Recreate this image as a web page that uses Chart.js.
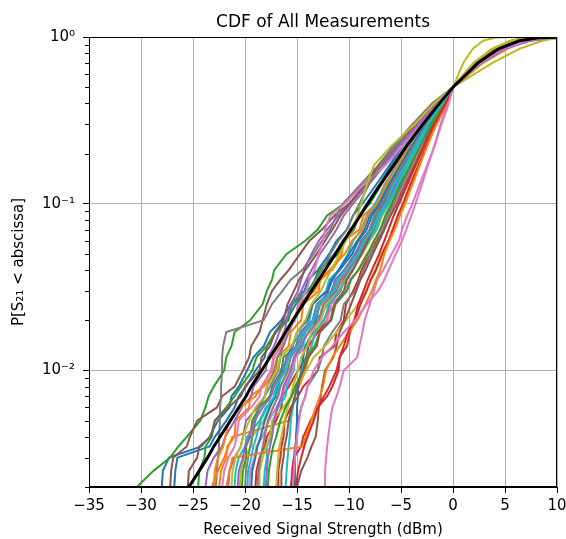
<!DOCTYPE html>
<html>
<head>
<meta charset="utf-8">
<script src="https://cdn.jsdelivr.net/npm/chart.js@4.4.0/dist/chart.umd.min.js"></script>
<style>
  html, body { margin: 0; padding: 0; background: #fff; }
  #wrap { width: 566px; height: 539px; }
</style>
</head>
<body>
<div id="wrap"><canvas id="c" width="566" height="539"></canvas></div>
<script>
// Cumulative probability levels shared by every curve (y values)
const levels = [0.002, 0.0025, 0.003, 0.0035, 0.004, 0.005, 0.006, 0.007, 0.008, 0.01,
                0.012, 0.014, 0.017, 0.02, 0.025, 0.03, 0.035, 0.04, 0.05, 0.06,
                0.07, 0.085, 0.1, 0.13, 0.17, 0.22, 0.3, 0.4, 0.5, 0.7,
                0.85, 0.95, 0.99, 1];

// Tick values
const xTickValues = [-35, -30, -25, -20, -15, -10, -5, 0, 5, 10];
const yDecades = [0.01, 0.1, 1];
const yDecadeLabels = ['10\u207B\u00B2', '10\u207B\u00B9', '10\u2070'];

// Colour cycle
const cycleColors = ['#1f77b4', '#ff7f0e', '#2ca02c', '#d62728', '#9467bd',
                     '#8c564b', '#e377c2', '#7f7f7f', '#bcbd22', '#17becf'];

// Received signal strength (dBm) of each measurement at the probability levels above
const m01 = [-28.0, -27.9, -27.3, -24.2, -23.4, -22.6, -21.5, -21.3, -20.6, -19.8, -19.2, -18.2, -17.6, -16.5, -15.6, -14.3, -13.9, -13.0, -11.9, -11.2, -10.2, -9.6, -8.7, -7.4, -6.1, -4.9, -3.2, -1.5, 0, 2.3, 4.2, 6.0, 7.8, 9.0];
const m02 = [-22.5, -22.3, -21.8, -21.7, -21.0, -20.9, -19.6, -19.5, -18.2, -17.0, -16.9, -15.8, -15.6, -14.6, -14.4, -12.9, -12.8, -11.6, -10.7, -10.5, -9.0, -8.6, -7.4, -6.6, -5.4, -4.2, -2.7, -1.2, 0, 2.5, 4.5, 6.3, 7.9, 9.2];
const m03 = [-30.4, -28.8, -27.2, -26.4, -25.6, -24.3, -23.8, -23.5, -23.0, -22.0, -21.8, -21.3, -21.0, -19.5, -18.3, -17.9, -17.4, -17.2, -16.0, -14.2, -13.0, -12.1, -10.5, -8.6, -7.0, -5.4, -3.4, -1.6, 0, 2.2, 4.0, 5.8, 7.4, 8.6];
const m04 = [-19.0, -18.9, -18.6, -18.1, -17.9, -17.0, -16.5, -16.4, -15.8, -14.9, -14.1, -13.9, -13.0, -12.1, -11.9, -10.8, -10.6, -9.8, -8.9, -8.5, -7.6, -7.2, -6.3, -5.5, -4.6, -3.6, -2.4, -1.0, 0, 2.1, 3.9, 5.6, 7.0, 8.0];
const m05 = [-23.8, -23.6, -23.0, -22.2, -21.9, -21.0, -20.3, -19.4, -19.2, -18.0, -17.8, -17.2, -16.7, -16.1, -15.4, -14.6, -14.1, -13.6, -12.8, -11.9, -11.2, -10.5, -9.6, -8.1, -6.6, -5.2, -3.3, -1.6, 0, 2.7, 5.0, 7.2, 10.6, 12.0];
const m06 = [-27.2, -27.1, -26.9, -25.6, -25.3, -24.6, -22.7, -22.2, -21.0, -20.2, -19.6, -19.4, -18.6, -18.3, -17.9, -17.4, -16.6, -15.8, -14.7, -13.8, -12.6, -11.4, -10.0, -8.4, -6.8, -5.3, -3.6, -1.9, 0, 2.0, 3.9, 5.8, 7.4, 8.6];
const m07 = [-12.3, -12.3, -12.2, -12.1, -12.0, -11.8, -11.6, -11.2, -10.9, -10.5, -9.2, -9.0, -8.7, -8.5, -8.0, -7.6, -7.3, -6.7, -5.9, -5.2, -4.9, -4.4, -3.9, -3.2, -2.5, -1.8, -1.2, -0.5, 0, 2.4, 4.6, 7.5, 10.2, 11.5];
const m08 = [-22.8, -22.7, -22.6, -22.5, -22.5, -22.4, -22.4, -22.3, -22.3, -22.2, -22.2, -22.1, -21.8, -18.2, -17.4, -16.4, -15.6, -14.5, -13.4, -12.6, -11.8, -11.2, -10.6, -8.9, -7.2, -5.8, -3.9, -2.0, 0, 2.3, 4.3, 6.2, 7.8, 9.0];
const m09 = [-20.5, -20.4, -20.1, -19.4, -19.3, -18.2, -17.7, -17.6, -16.6, -15.8, -15.1, -14.9, -13.8, -12.8, -12.6, -11.0, -10.7, -10.1, -9.2, -8.9, -7.8, -7.3, -6.5, -5.6, -4.6, -3.5, -2.2, -0.9, 0, 1.0, 1.9, 2.9, 4.0, 5.2];
const m10 = [-18.2, -18.1, -17.9, -17.9, -17.5, -17.3, -16.8, -16.1, -16.0, -15.3, -15.2, -14.4, -14.2, -13.2, -12.0, -11.5, -11.4, -10.3, -9.5, -8.6, -8.0, -7.6, -6.8, -5.9, -4.8, -3.7, -2.5, -1.1, 0, 2.3, 4.2, 6.0, 7.6, 8.7];
const m11 = [-26.8, -26.7, -26.5, -23.4, -22.9, -21.8, -21.0, -20.6, -19.9, -19.0, -18.1, -17.9, -17.0, -16.0, -15.1, -14.0, -13.1, -12.8, -11.4, -10.6, -9.8, -9.0, -8.3, -7.1, -5.9, -4.6, -3.0, -1.4, 0, 2.4, 4.4, 6.2, 7.8, 8.9];
const m12 = [-23.2, -22.6, -22.0, -21.6, -21.2, -15.8, -15.5, -15.2, -14.8, -14.2, -13.9, -13.6, -13.2, -12.5, -11.3, -10.4, -9.9, -9.1, -8.3, -7.4, -6.8, -6.1, -5.5, -4.7, -3.8, -2.9, -1.8, -0.7, 0, 2.7, 4.8, 6.6, 8.3, 9.6];
const m13 = [-24.5, -24.4, -23.9, -23.8, -23.2, -22.9, -21.8, -21.0, -20.4, -19.3, -18.9, -17.9, -17.1, -15.8, -15.5, -13.9, -13.3, -12.9, -11.0, -10.5, -9.5, -9.1, -8.0, -6.9, -5.7, -4.4, -2.9, -1.3, 0, 2.4, 4.3, 6.1, 7.6, 8.8];
const m14 = [-16.8, -16.8, -16.6, -16.5, -16.3, -16.2, -15.6, -14.9, -14.4, -13.0, -12.8, -11.4, -11.2, -10.5, -10.3, -9.6, -9.1, -8.8, -8.0, -7.3, -6.9, -6.4, -5.8, -5.0, -4.1, -3.2, -2.1, -0.8, 0, 2.8, 4.9, 6.7, 8.2, 9.3];
const m15 = [-21.6, -21.5, -21.0, -20.4, -20.2, -19.9, -18.8, -18.1, -17.6, -16.8, -16.6, -16.4, -16.2, -16.0, -15.6, -14.9, -14.6, -14.3, -13.6, -12.9, -12.1, -11.0, -9.9, -8.3, -6.7, -5.3, -3.4, -1.7, 0, 2.5, 4.6, 6.6, 8.6, 10.2];
const m16 = [-25.5, -25.4, -24.6, -24.4, -23.3, -22.9, -21.6, -20.4, -20.0, -18.6, -18.4, -17.6, -17.1, -16.3, -15.9, -15.3, -14.8, -14.2, -13.1, -12.3, -11.6, -10.8, -9.9, -8.5, -7.1, -5.6, -3.7, -1.9, 0, 2.2, 4.1, 6.0, 7.5, 8.7];
const m17 = [-19.6, -19.5, -19.1, -18.9, -18.3, -17.7, -17.0, -16.4, -16.2, -15.4, -15.2, -14.0, -13.5, -12.1, -11.7, -10.3, -9.9, -9.1, -8.1, -7.6, -6.8, -6.3, -5.5, -4.7, -3.9, -3.0, -1.9, -0.8, 0, 2.5, 4.7, 7.0, 9.4, 10.8];
const m18 = [-15.5, -15.5, -15.3, -15.2, -15.0, -14.9, -14.6, -14.2, -14.0, -13.0, -12.6, -12.4, -11.6, -10.8, -10.5, -9.4, -9.0, -8.6, -7.9, -7.2, -6.7, -6.3, -5.7, -4.9, -4.0, -3.2, -2.0, -0.8, 0, 2.4, 4.3, 6.1, 7.7, 8.8];
const m19 = [-18.6, -18.6, -18.3, -18.0, -17.6, -17.4, -16.3, -15.6, -15.0, -14.1, -13.4, -12.3, -11.2, -10.3, -9.1, -8.4, -7.9, -7.5, -6.9, -6.2, -5.7, -5.2, -4.8, -4.1, -3.4, -2.6, -1.6, -0.6, 0, 3.8, 6.4, 8.6, 10.2, 11.0];
const m20 = [-21.0, -20.9, -20.6, -20.0, -19.8, -18.6, -18.0, -16.9, -16.7, -16.6, -15.8, -15.6, -14.5, -13.8, -13.5, -12.2, -11.9, -11.0, -10.1, -9.6, -8.8, -8.3, -7.5, -6.5, -5.4, -4.2, -2.7, -1.2, 0, 2.4, 4.3, 6.1, 7.6, 8.8];
const m21 = [-15.2, -15.2, -15.2, -15.1, -15.1, -15.0, -15.0, -14.9, -14.9, -14.6, -14.4, -14.2, -13.5, -13.2, -12.8, -12.0, -11.6, -11.0, -10.0, -9.2, -8.5, -8.0, -7.2, -6.2, -5.1, -4.0, -2.6, -1.2, 0, 2.3, 4.2, 6.0, 7.5, 8.6];
const m22 = [-23.0, -22.9, -22.6, -22.1, -21.9, -21.5, -20.5, -19.0, -18.4, -17.4, -17.2, -16.6, -16.3, -15.2, -14.9, -13.3, -12.7, -11.9, -10.4, -9.7, -8.7, -8.2, -7.3, -6.4, -5.3, -4.3, -2.9, -1.4, 0, 2.8, 5.0, 6.8, 8.4, 9.6];
const m23 = [-20.3, -20.2, -19.9, -19.9, -19.5, -19.3, -18.6, -17.6, -17.4, -16.5, -16.3, -15.0, -14.4, -13.3, -12.9, -11.6, -11.2, -10.3, -9.3, -8.8, -7.9, -7.4, -6.7, -5.8, -4.7, -3.6, -2.3, -1.0, 0, 2.2, 4.0, 5.9, 7.3, 8.4];
const m24 = [-15.6, -15.4, -15.3, -14.6, -14.4, -13.7, -13.0, -12.1, -11.6, -11.0, -10.9, -10.2, -9.9, -9.4, -8.9, -8.3, -7.9, -7.4, -6.8, -6.2, -5.8, -5.3, -4.8, -4.1, -3.3, -2.6, -1.6, -0.6, 0, 2.6, 4.6, 6.3, 7.8, 8.9];
const m25 = [-18.0, -17.9, -17.8, -17.6, -17.4, -17.2, -16.9, -16.5, -16.3, -15.6, -15.3, -14.6, -13.9, -12.9, -12.4, -11.2, -10.8, -10.0, -9.0, -8.4, -7.6, -7.1, -6.4, -5.5, -4.5, -3.5, -2.2, -0.9, 0, 2.6, 4.9, 7.2, 9.2, 10.6];
const m26 = [-15.0, -14.6, -14.0, -13.6, -13.2, -13.0, -12.9, -12.7, -12.6, -12.3, -11.5, -11.2, -10.9, -10.4, -9.8, -9.3, -8.9, -8.4, -7.7, -7.1, -6.6, -6.0, -5.4, -4.6, -3.7, -2.9, -1.9, -0.8, 0, 2.2, 4.2, 6.1, 7.7, 8.9];
const m27 = [-22.2, -22.0, -21.6, -21.0, -20.8, -20.6, -19.4, -18.6, -18.4, -17.5, -17.3, -16.4, -16.0, -15.2, -14.8, -14.1, -13.8, -13.3, -12.9, -12.5, -12.3, -11.8, -10.4, -8.6, -6.5, -4.9, -3.1, -1.4, 0, 2.5, 4.6, 6.9, 9.0, 10.4];
const m28 = [-20.0, -19.9, -19.7, -19.5, -19.3, -19.0, -18.6, -18.1, -17.9, -17.2, -16.9, -16.3, -15.8, -15.3, -14.6, -13.7, -13.2, -12.6, -11.8, -11.0, -10.2, -9.6, -9.0, -8.1, -7.0, -5.6, -3.8, -1.9, 0, 2.4, 4.4, 6.3, 7.9, 9.0];
const m29 = [-17.0, -16.9, -16.8, -16.7, -16.5, -16.2, -15.9, -15.6, -15.4, -14.9, -14.6, -14.0, -13.6, -12.7, -12.2, -10.9, -10.4, -9.8, -8.7, -8.0, -7.3, -6.8, -6.1, -5.2, -4.3, -3.3, -2.1, -0.9, 0, 2.0, 3.7, 5.5, 7.0, 8.2];
const m30 = [-16.1, -16.0, -15.9, -15.8, -15.7, -15.6, -15.4, -15.2, -15.0, -14.5, -14.1, -13.6, -13.3, -12.4, -11.9, -10.9, -10.3, -9.7, -8.8, -8.1, -7.4, -6.9, -6.2, -5.3, -4.4, -3.4, -2.2, -0.9, 0, 2.3, 4.2, 6.0, 7.6, 8.7];
const m31 = [-19.4, -19.3, -19.0, -18.8, -18.5, -18.1, -17.6, -17.1, -16.9, -16.3, -16.0, -15.4, -15.0, -14.0, -13.5, -12.1, -11.7, -10.9, -9.7, -9.1, -8.3, -7.8, -7.0, -6.1, -5.0, -3.9, -2.5, -1.1, 0, 2.4, 4.3, 6.1, 7.7, 8.8];
const m32 = [-21.8, -21.5, -21.2, -14.4, -14.2, -13.6, -13.2, -12.8, -12.5, -12.2, -11.6, -10.9, -10.0, -9.2, -8.4, -7.8, -7.4, -7.0, -6.6, -6.1, -5.6, -5.1, -4.6, -3.9, -3.2, -2.5, -1.6, -0.6, 0, 2.9, 5.2, 7.0, 8.5, 9.5];
const m33 = [-17.8, -17.7, -17.5, -17.3, -17.0, -16.6, -16.1, -15.5, -15.2, -14.4, -14.1, -13.3, -12.8, -11.7, -11.3, -10.2, -9.8, -9.1, -8.2, -7.6, -7.0, -6.5, -5.9, -5.1, -4.1, -3.2, -2.1, -0.9, 0, 2.1, 3.9, 5.7, 7.2, 8.3];
const m34 = [-15.1, -14.9, -14.6, -14.3, -14.0, -13.4, -13.0, -12.4, -11.9, -11.2, -10.9, -10.5, -10.1, -9.5, -9.1, -8.6, -8.2, -7.8, -7.1, -6.6, -6.2, -5.7, -5.2, -4.4, -3.6, -2.8, -1.8, -0.7, 0, 2.3, 4.1, 5.8, 7.2, 8.2];
const m35 = [-20.7, -20.6, -20.2, -20.0, -19.6, -19.1, -18.3, -17.5, -17.2, -16.3, -16.0, -15.1, -14.7, -13.5, -13.1, -11.7, -11.3, -10.5, -9.4, -8.8, -8.0, -7.5, -6.8, -5.9, -4.8, -3.8, -2.5, -1.1, 0, 2.7, 5.0, 7.4, 9.6, 11.0];
const m36 = [-16.5, -16.5, -16.3, -16.2, -16.0, -15.8, -15.5, -15.2, -15.0, -14.4, -13.9, -13.1, -12.8, -11.8, -11.4, -10.5, -10.2, -9.6, -8.8, -8.2, -7.7, -7.2, -6.6, -5.7, -4.7, -3.7, -2.4, -1.0, 0, 2.3, 4.2, 6.0, 7.5, 8.6];
const m37 = [-15.4, -15.3, -15.2, -15.1, -15.0, -14.8, -14.6, -14.2, -14.0, -13.4, -12.6, -11.6, -10.5, -9.4, -8.3, -7.2, -6.6, -6.2, -5.5, -4.9, -4.5, -4.0, -3.6, -3.0, -2.4, -1.8, -1.1, -0.4, 0, 2.6, 4.8, 7.1, 9.3, 10.6];
const m38 = [-18.8, -18.7, -18.5, -18.3, -18.1, -17.8, -17.3, -16.8, -16.6, -15.9, -15.6, -14.8, -14.3, -13.3, -12.8, -11.4, -11.0, -10.3, -9.3, -8.7, -8.0, -7.5, -6.8, -5.9, -4.9, -3.8, -2.5, -1.1, 0, 2.4, 4.3, 6.2, 7.7, 8.8];
const m39 = [-21.3, -21.2, -20.9, -20.4, -20.2, -19.6, -19.0, -18.1, -17.9, -16.9, -16.6, -15.5, -15.0, -14.2, -13.6, -12.7, -12.2, -11.7, -10.9, -10.3, -9.7, -9.2, -8.8, -8.3, -7.6, -6.0, -3.7, -1.8, 0, 2.0, 3.8, 5.6, 7.1, 8.3];
const m40 = [-19.8, -19.7, -19.4, -19.2, -18.9, -18.5, -17.9, -17.2, -17.0, -16.1, -15.8, -14.9, -14.4, -13.4, -12.9, -11.5, -11.1, -10.3, -9.1, -8.5, -7.7, -7.2, -6.5, -5.7, -4.6, -3.6, -2.4, -1.0, 0, 2.5, 4.4, 6.2, 7.8, 8.9];

// Reference distribution (black curve) at the same levels
const referenceCurve = [-25.4, -24.4, -23.6, -23.0, -22.4, -21.4, -20.6, -19.9, -19.4, -18.4,
                        -17.6, -16.9, -16.1, -15.4, -14.4, -13.6, -12.9, -12.3, -11.3, -10.5,
                        -9.8, -8.9, -8.2, -7.0, -5.7, -4.5, -2.9, -1.3, 0, 2.4,
                        4.4, 6.4, 8.2, 10.5];

const measurements = [m01, m02, m03, m04, m05, m06, m07, m08, m09, m10,
                      m11, m12, m13, m14, m15, m16, m17, m18, m19, m20,
                      m21, m22, m23, m24, m25, m26, m27, m28, m29, m30,
                      m31, m32, m33, m34, m35, m36, m37, m38, m39, m40];

const FONT = 'DejaVu Sans';
const toPoints = xs => xs.map((x, i) => ({ x: x, y: levels[i] }));
const isDecade = v => Math.abs(Math.log10(v) - Math.round(Math.log10(v))) < 1e-9;

// Dataset 0 is painted last, so the reference curve sits on top
const datasets = [{
  data: toPoints(referenceCurve),
  borderColor: '#000000',
  borderWidth: 3,
  order: 0
}].concat(measurements.map((xs, i) => ({
  data: toPoints(xs),
  borderColor: cycleColors[i % cycleColors.length],
  borderWidth: 2,
  order: measurements.length - i
})));

// Title, minor ticks and the closed axes frame
const decorations = {
  id: 'decorations',
  afterDatasetsDraw(chart) {
    const { ctx, chartArea: a, scales } = chart;
    const y = scales.y;
    ctx.save();
    ctx.strokeStyle = '#000';
    ctx.lineWidth = 1;
    y.ticks.forEach(t => {
      if (isDecade(t.value)) return;
      const py = Math.round(y.getPixelForValue(t.value)) + 0.5;
      ctx.beginPath();
      ctx.moveTo(a.left - 4, py);
      ctx.lineTo(a.left, py);
      ctx.stroke();
    });
    ctx.strokeRect(Math.round(a.left) + 0.5, Math.round(a.top) + 0.5,
                   Math.round(a.right - a.left) - 1, Math.round(a.bottom - a.top) - 1);
    ctx.fillStyle = '#000';
    ctx.font = '17px "' + FONT + '"';
    ctx.textAlign = 'center';
    ctx.textBaseline = 'alphabetic';
    ctx.fillText('CDF of All Measurements', (a.left + a.right) / 2, 27);
    ctx.restore();
  }
};

new Chart(document.getElementById('c'), {
  type: 'scatter',
  data: { datasets: datasets },
  options: {
    responsive: false,
    animation: false,
    devicePixelRatio: 1,
    layout: { padding: { top: 37, right: 9, left: 0, bottom: 0 } },
    elements: {
      point: { radius: 0, hoverRadius: 0 },
      line: { tension: 0, fill: false }
    },
    datasets: { scatter: { showLine: true } },
    plugins: { legend: { display: false }, tooltip: { enabled: false } },
    scales: {
      x: {
        type: 'linear',
        min: -35,
        max: 10,
        afterBuildTicks: s => { s.ticks = xTickValues.map(v => ({ value: v })); },
        afterFit: s => { s.height = 52; s.paddingLeft = 0; s.paddingRight = 0; },
        ticks: {
          autoSkip: false,
          maxRotation: 0,
          color: '#000',
          padding: 4,
          font: { family: FONT, size: 15 },
          callback: v => (v < 0 ? '\u2212' + Math.abs(v) : String(v))
        },
        grid: { color: '#b0b0b0', lineWidth: 1, tickColor: '#000', tickLength: 6 },
        border: { color: '#000', width: 1 },
        title: {
          display: true,
          text: 'Received Signal Strength (dBm)',
          color: '#000',
          font: { family: FONT, size: 15 },
          padding: { top: 1, bottom: 0 }
        }
      },
      y: {
        type: 'logarithmic',
        min: 0.002,
        max: 1,
        afterBuildTicks: s => {
          const vals = [];
          [0.001, 0.01, 0.1].forEach(d => {
            for (let k = 1; k <= 9; k++) {
              const v = +(d * k).toPrecision(3);
              if (v >= 0.002 && v < 1) vals.push(v);
            }
          });
          vals.push(1);
          s.ticks = vals.map(v => ({ value: v, major: isDecade(v) }));
        },
        afterFit: s => { s.width = 89; s.paddingTop = 0; s.paddingBottom = 0; },
        ticks: {
          autoSkip: false,
          color: '#000',
          padding: 8,
          font: { family: FONT, size: 15 },
          callback: v => {
            const i = yDecades.findIndex(d => Math.abs(d - v) < 1e-12);
            return i >= 0 ? yDecadeLabels[i] : '';
          }
        },
        grid: {
          lineWidth: 1,
          tickLength: 6,
          color: c => (isDecade(c.tick.value) ? '#b0b0b0' : 'rgba(0,0,0,0)'),
          tickColor: c => (isDecade(c.tick.value) ? '#000' : 'rgba(0,0,0,0)')
        },
        border: { color: '#000', width: 1 },
        title: {
          display: true,
          text: 'P[S\u2082\u2081 < abscissa]',
          color: '#000',
          font: { family: FONT, size: 15 },
          padding: { top: 10, bottom: 0 }
        }
      }
    }
  },
  plugins: [decorations]
});
</script>
</body>
</html>
